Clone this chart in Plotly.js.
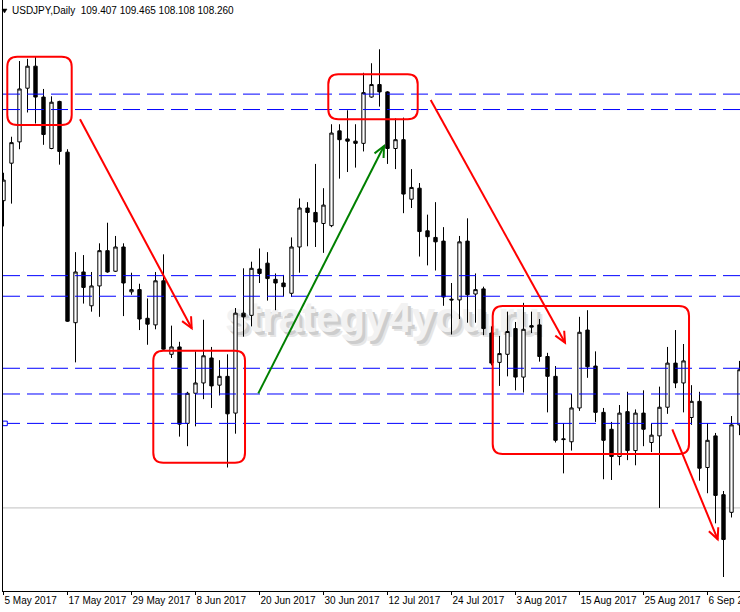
<!DOCTYPE html>
<html><head><meta charset="utf-8">
<script src="https://cdn.plot.ly/plotly-3.0.1.min.js"></script>
<style>html,body{margin:0;padding:0;background:#fff}#chart{width:740px;height:612px}</style>
</head><body><div id="chart"></div>
<script>
// ---- data (USDJPY daily) ----
const dates = [
 '2017-05-05',
 '2017-05-08','2017-05-09','2017-05-10','2017-05-11','2017-05-12',
 '2017-05-15','2017-05-16','2017-05-17','2017-05-18','2017-05-19',
 '2017-05-22','2017-05-23','2017-05-24','2017-05-25','2017-05-26',
 '2017-05-29','2017-05-30','2017-05-31','2017-06-01','2017-06-02',
 '2017-06-05','2017-06-06','2017-06-07','2017-06-08','2017-06-09',
 '2017-06-12','2017-06-13','2017-06-14','2017-06-15','2017-06-16',
 '2017-06-19','2017-06-20','2017-06-21','2017-06-22','2017-06-23',
 '2017-06-26','2017-06-27','2017-06-28','2017-06-29','2017-06-30',
 '2017-07-03','2017-07-04','2017-07-05','2017-07-06','2017-07-07',
 '2017-07-10','2017-07-11','2017-07-12','2017-07-13','2017-07-14',
 '2017-07-17','2017-07-18','2017-07-19','2017-07-20','2017-07-21',
 '2017-07-24','2017-07-25','2017-07-26','2017-07-27','2017-07-28',
 '2017-07-31','2017-08-01','2017-08-02','2017-08-03','2017-08-04',
 '2017-08-07','2017-08-08','2017-08-09','2017-08-10','2017-08-11',
 '2017-08-14','2017-08-15','2017-08-16','2017-08-17','2017-08-18',
 '2017-08-21','2017-08-22','2017-08-23','2017-08-24','2017-08-25',
 '2017-08-28','2017-08-29','2017-08-30','2017-08-31','2017-09-01',
 '2017-09-04','2017-09-05','2017-09-06','2017-09-07','2017-09-08',
 '2017-09-11','2017-09-12'
];
const openP = [
 112.44,112.95,113.24,113.97,114.27,113.85,113.15,113.79,113.10,110.78,
 111.47,111.01,111.28,111.76,111.48,111.81,111.20,111.23,110.84,110.75,
 111.35,110.35,110.45,109.41,109.82,109.96,110.30,109.93,110.05,109.55,
 110.91,110.88,111.51,111.59,111.37,111.32,111.18,111.81,112.34,112.28,
 112.13,112.10,113.39,113.28,113.25,113.22,113.85,114.02,113.92,113.15,
 113.27,112.46,112.61,112.03,111.94,111.89,111.10,111.09,111.89,111.17,
 111.24,110.64,110.24,110.35,110.70,110.04,110.74,110.75,110.32,110.05,
 109.20,109.16,109.62,110.68,110.19,109.56,109.33,108.96,109.57,109.04,
 109.55,109.15,109.24,109.63,110.23,109.96,109.49,109.71,108.81,109.24,
 108.44,108.20,109.39
];
const highP = [
 112.82,113.31,114.34,114.37,114.40,113.96,113.86,113.80,113.14,111.74,
 111.70,111.47,111.86,112.14,111.96,111.86,111.46,111.31,111.11,111.47,
 111.71,110.74,110.52,109.84,110.39,110.82,110.45,110.27,110.35,110.98,
 111.52,111.61,111.79,111.74,111.45,111.43,111.94,112.47,112.42,112.94,
 112.61,113.48,113.48,113.67,113.48,114.18,114.31,114.50,113.93,113.56,
 113.57,112.87,112.68,112.25,112.42,112.08,111.32,111.96,112.20,111.45,
 111.27,110.73,110.60,110.93,110.79,111.05,110.93,110.83,110.37,110.19,
 109.41,109.81,110.86,110.95,110.39,109.62,109.43,109.66,109.84,109.60,
 109.86,109.41,109.91,110.45,110.68,110.49,109.93,109.84,109.41,109.28,
 108.49,109.51,110.26
];
const lowP = [
 112.09,112.40,113.14,113.64,113.49,113.20,113.14,112.93,110.79,110.24,
 111.04,110.93,110.86,111.46,111.47,110.87,111.16,110.68,110.48,110.69,
 110.41,110.30,109.23,109.10,109.37,109.74,109.62,109.79,108.81,109.27,
 110.59,110.73,111.32,111.08,110.95,111.14,111.13,111.46,111.82,111.81,
 111.73,112.08,112.74,112.83,112.89,113.11,113.84,113.72,112.94,112.87,
 112.27,112.34,111.68,111.56,111.49,111.01,110.62,110.83,110.78,110.78,
 110.61,110.20,109.92,110.05,109.86,109.83,110.64,110.25,109.56,109.15,
 108.73,109.04,109.58,110.03,109.43,108.65,108.64,108.84,108.91,108.84,
 109.10,109.02,108.26,109.54,109.89,109.56,109.39,108.63,108.46,108.05,
 107.32,108.13,109.25
];
const closeP = [
 112.72,113.23,113.96,114.27,113.85,113.34,113.78,113.11,110.80,111.47,
 111.26,111.28,111.76,111.47,111.81,111.32,111.23,110.83,110.76,111.35,
 110.42,110.45,109.40,109.82,109.96,110.33,109.92,110.05,109.54,110.91,
 110.86,111.52,111.45,111.38,111.32,111.27,111.81,112.34,112.28,112.15,
 112.38,113.36,113.27,113.25,113.22,113.91,114.02,113.92,113.15,113.27,
 112.53,112.62,112.02,111.95,111.88,111.13,111.09,111.88,111.16,111.23,
 110.70,110.23,110.36,110.66,110.04,110.69,110.72,110.32,110.05,109.18,
 109.19,109.62,110.65,110.18,109.56,109.18,108.96,109.55,109.04,109.55,
 109.33,109.25,109.63,110.23,109.96,110.26,109.71,108.80,109.18,108.43,
 107.83,109.39,110.14
];
const tickDates = ['2017-05-05','2017-05-17','2017-05-29','2017-06-08','2017-06-20','2017-06-30',
                   '2017-07-12','2017-07-24','2017-08-03','2017-08-15','2017-08-25','2017-09-06'];
const tickLabels = ['5 May 2017','17 May 2017','29 May 2017','8 Jun 2017','20 Jun 2017','30 Jun 2017',
                    '12 Jul 2017','24 Jul 2017','3 Aug 2017','15 Aug 2017','25 Aug 2017','6 Sep 2017'];
const levels = [113.89, 113.68, 111.42, 111.14, 110.16, 109.81, 109.41];
const bidPrice = 108.26;
const titleText = 'USDJPY,Daily\u00a0 109.407 109.465 108.108 108.260';
const watermark = 'strategy4you.ru';

// ---- drawn objects (bar index, price) ----
const boxes = [
  {x0:0.475, x1:8.525, p0:113.470, p1:114.399},
  {x0:18.725, x1:30.19, p0:108.875, p1:110.399},
  {x0:40.6, x1:51.775, p0:113.547, p1:114.159},
  {x0:61.15, x1:85.69, p0:108.994, p1:111.007}
];
const arrows = [
  {x0:9.5625, p0:113.547, x1:23.525, p1:110.704, c:'#ff0000'},
  {x0:53.4, p0:113.810, x1:70.19, p1:110.508, c:'#ff0000'},
  {x0:83.6, p0:109.329, x1:89.275, p1:107.833, c:'#ff0000'},
  {x0:31.85, p0:109.819, x1:47.56, p1:113.184, c:'#008000'}
];

// ---- geometry ----
const W = 740, H = 612;
const M = {l:3, r:0, t:0, b:21};
const PW = W - M.l - M.r, PH = H - M.t - M.b;
const XR = [-0.0625, 92.0625];
const YR = [107.1296, 115.1704];
const SX = PW / (XR[1]-XR[0]);
const SY = PH / (YR[1]-YR[0]);
const idx = dates.map((d,i)=>i);
const tickvals = tickDates.map(d => dates.indexOf(d));

const shapes = [];
// bid line
shapes.push({type:'line', layer:'below', xref:'paper', x0:0, x1:1, yref:'y', y0:bidPrice, y1:bidPrice,
  line:{color:'#c0c0c0', width:1}});
// watermark (shadow + face), below candles
const wm = (dx, dy, col) => ({type:'rect', layer:'below', xref:'paper', yref:'paper',
  x0:0.30+dx/PW, x1:0.73+dx/PW, y0:0.43-dy/PH, y1:0.51-dy/PH, line:{width:0}, fillcolor:'rgba(0,0,0,0)',
  label:{text:watermark, textposition:'middle center',
    font:{family:'Liberation Sans, Arial, sans-serif', size:42, weight:'bold', color:col}}});
shapes.push(wm(5,5,'#e6e6e6'));
shapes.push(wm(3,3,'#cdcdcd'));
shapes.push(wm(0,0,'#f2f2f2'));
// horizontal levels
levels.forEach(p => shapes.push({type:'line', xref:'paper', x0:0, x1:1, yref:'y', y0:p, y1:p,
  line:{color:'#0000ff', width:1, dash:'17px,7px'}}));
// anchor square on the lowest level
shapes.push({type:'rect', xref:'x', yref:'y', x0:-0.1, x1:0.475, y0:levels[6]-0.031, y1:levels[6]+0.031,
  line:{color:'#0000ff', width:1}, fillcolor:'white'});
// rounded boxes
function roundRect(b, r){
  const rx = r/SX, ry = r/SY;
  const {x0,x1,p0,p1} = b;
  return `M${x0+rx},${p1} L${x1-rx},${p1} Q${x1},${p1} ${x1},${p1-ry} L${x1},${p0+ry} Q${x1},${p0} ${x1-rx},${p0} `+
         `L${x0+rx},${p0} Q${x0},${p0} ${x0},${p0+ry} L${x0},${p1-ry} Q${x0},${p1} ${x0+rx},${p1} Z`;
}
boxes.forEach(b => shapes.push({type:'path', xref:'x', yref:'y', path:roundRect(b,10),
  line:{color:'#ff0000', width:2}, fillcolor:'rgba(0,0,0,0)'}));
// arrows
function arrowShapes(a){
  const dxp = (a.x1-a.x0)*SX, dyp = -(a.p1-a.p0)*SY;
  const len = Math.hypot(dxp,dyp);
  const bx = -dxp/len, by = -dyp/len;
  const L = 12, th = 25*Math.PI/180;
  const pts = [th,-th].map(t => {
    const rx = bx*Math.cos(t) - by*Math.sin(t);
    const ry = bx*Math.sin(t) + by*Math.cos(t);
    return [a.x1 + rx*L/SX, a.p1 - ry*L/SY];
  });
  return [
    {type:'line', xref:'x', yref:'y', x0:a.x0, y0:a.p0, x1:a.x1, y1:a.p1, line:{color:a.c, width:2}},
    {type:'path', xref:'x', yref:'y', path:`M${pts[0][0]},${pts[0][1]} L${a.x1},${a.p1} L${pts[1][0]},${pts[1][1]}`,
     line:{color:a.c, width:2}, fillcolor:'rgba(0,0,0,0)'}
  ];
}
arrows.forEach(a => shapes.push(...arrowShapes(a)));
// title triangle
shapes.push({type:'path', xref:'paper', yref:'paper',
  path:`M${(2-M.l)/PW},${1-9/PH} L${(7-M.l)/PW},${1-9/PH} L${(4.5-M.l)/PW},${1-13/PH} Z`,
  line:{color:'black', width:0.5}, fillcolor:'black'});

const annotations = [{
  xref:'paper', yref:'paper', x:(9.5-M.l)/PW, y:1-11/PH, xanchor:'left', yanchor:'middle',
  text:titleText, showarrow:false, font:{family:'Liberation Sans, Arial, sans-serif', size:10, color:'black'}
}];

const trace = {
  type:'candlestick', x:idx, open:openP, high:highP, low:lowP, close:closeP,
  increasing:{line:{color:'black', width:1}, fillcolor:'white'},
  decreasing:{line:{color:'black', width:1}, fillcolor:'black'},
  whiskerwidth:0, hoverinfo:'skip', showlegend:false
};

const layout = {
  width:W, height:H, margin:{l:M.l, r:M.r, t:M.t, b:M.b, pad:0},
  paper_bgcolor:'white', plot_bgcolor:'white', showlegend:false, boxgap:0.4,
  xaxis:{type:'linear', range:XR, tickvals:tickvals, ticktext:tickLabels, tickangle:0,
    ticks:'outside', ticklen:3, tickwidth:1, tickcolor:'black', ticklabelposition:'outside right',
    ticklabeloverflow:'allow',
    tickfont:{family:'Liberation Sans, Arial, sans-serif', size:10, color:'black'},
    showgrid:false, zeroline:false, showline:true, linecolor:'black', linewidth:1,
    rangeslider:{visible:false}, fixedrange:true},
  yaxis:{range:YR, showgrid:false, zeroline:false, showticklabels:false, ticks:'',
    showline:true, linecolor:'black', linewidth:1, fixedrange:true},
  shapes:shapes, annotations:annotations
};
Plotly.newPlot('chart', [trace], layout, {staticPlot:true, displayModeBar:false});
</script>
</body></html>
